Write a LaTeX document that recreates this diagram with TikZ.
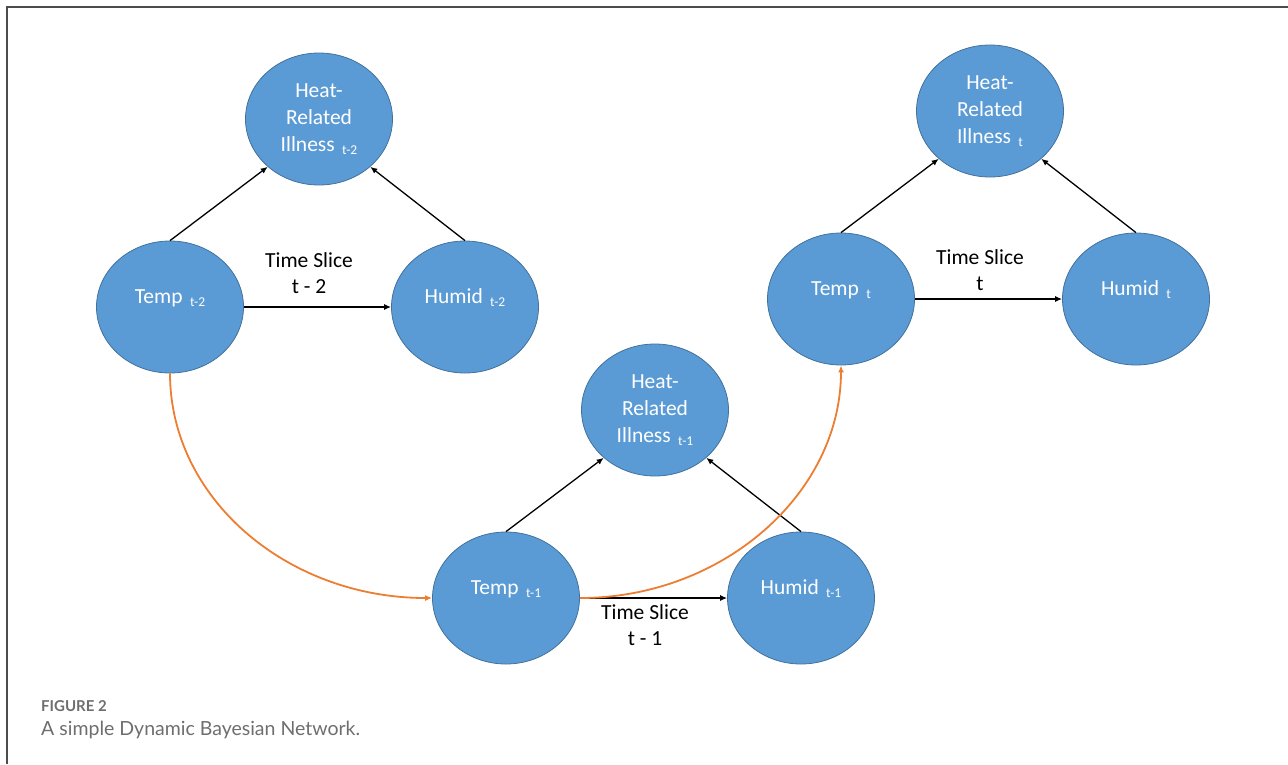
\documentclass[tikz,border=0pt]{standalone}
\usepackage{fontspec}
\setmainfont{Carlito}
\newfontfamily\capfont{Lato}
\usetikzlibrary{shapes.geometric,arrows.meta}

\definecolor{nodeblue}{HTML}{5B9BD5}
\definecolor{nodeedge}{HTML}{41719C}
\definecolor{timeorange}{HTML}{ED7D31}
\definecolor{capgray}{HTML}{6E6E6E}

% lowered index after a variable name
\newcommand{\tsub}[1]{\hspace{2.5pt}\raisebox{-0.3ex}{\fontsize{13.5}{13.5}\selectfont #1}}

\tikzset{
  var/.style={ellipse, minimum width=147pt, minimum height=132pt, inner sep=0,
              fill=nodeblue, draw=nodeedge, line width=0.8pt, text=white,
              font=\fontsize{21.5}{27}\selectfont, align=center},
  obs var/.style={var, text height=15pt, text depth=22pt},
  dep arrow/.style={-{Latex[length=7pt,width=6pt]}, line width=1.3pt},
  time arrow/.style={-{Latex[length=7pt,width=6pt]}, line width=1.8pt, timeorange},
}

\begin{document}
\begin{tikzpicture}[x=1pt, y=-1pt,
      slice label/.style={font=\fontsize{21.5}{26}\selectfont, align=center},
    ]
    \useasboundingbox (0,0) rectangle (1288,764);

    % frame rules
    \draw[black!70, line width=1.3pt] (1288,7) -- (7,7) -- (7,764);

    \foreach \s/\sl/\tx/\ty/\lab/\ly in {
      a/t-2/170/307/t - 2/-34,
      b/t-1/506/598/t - 1/27,
      c/t/841/299/t/-29} {

      % Temperature and humidity of the slice
      \node[obs var] (temp\s) at (\tx, \ty) {Temp \tsub{\sl}};
      \node[obs var] (humid\s) at (\tx+295, \ty) {Humid \tsub{\sl}};

      % Heat-related illness above them
      \node[var] (hri\s) at (\tx+149, \ty-188) {Heat-\\Related\\Illness \tsub{\sl}};

      % Slice label
      \node[slice label] (lab\s) at (\tx+139, \ty+\ly) {Time Slice\\\lab};

      \draw[dep arrow] (temp\s.north) -- (hri\s.223);
      \draw[dep arrow] (humid\s.north) -- (hri\s.317);
      \draw[dep arrow] (temp\s.east) -- (humid\s.west);
    }

    % links between slices
    \draw[time arrow] (tempa.south) .. controls +(0,125) and +(-145,0) .. (tempb.west);
    \draw[time arrow] (tempb.east) .. controls +(143,0) and +(0,128) .. (tempc.south);

    % caption
    \node[anchor=base west, inner sep=0, font=\capfont\bfseries\fontsize{15}{18}\selectfont,
          text=capgray] (figno) at (41,711) {FIGURE 2};
    \node[anchor=base west, inner sep=0, font=\capfont\fontsize{19.5}{23}\selectfont,
          text=capgray] (figcap) at (41,735) {A simple Dynamic Bayesian Network.};
\end{tikzpicture}
\end{document}
